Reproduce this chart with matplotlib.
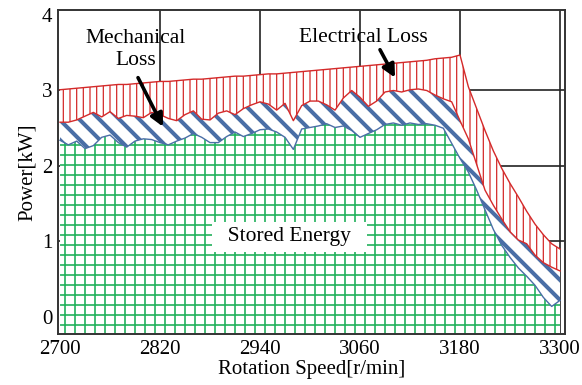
import numpy as np
import matplotlib
matplotlib.use("Agg")
from matplotlib import pyplot as plt

# figure is drawn at dpi 120 so the hatch spacing comes out coarser;
# point sizes are scaled back so the pixel sizes stay the same
DPI = 120
S = 100 / DPI

plt.rcParams['font.family'] = ['Liberation Serif', 'DejaVu Serif']
plt.rcParams['font.size'] = 15 * S

# rotation speed samples [r/min]
rpm = np.arange(2700, 3301, 10)

# top of stored energy band [kW]
stored = [2.34, 2.28, 2.33, 2.23, 2.27, 2.38, 2.41, 2.31, 2.25, 2.33,
          2.36, 2.35, 2.31, 2.28, 2.33, 2.37, 2.43, 2.38, 2.31, 2.31,
          2.39, 2.45, 2.39, 2.43, 2.48, 2.49, 2.45, 2.38, 2.22, 2.49,
          2.51, 2.53, 2.56, 2.51, 2.53, 2.47, 2.38, 2.43, 2.48, 2.55,
          2.57, 2.54, 2.57, 2.55, 2.56, 2.54, 2.50, 2.30, 2.10, 1.92,
          1.68, 1.42, 1.16, 0.95, 0.79, 0.65, 0.54, 0.42, 0.26, 0.14,
          0.22]

# stored + mechanical loss [kW]
mech_top = [2.58, 2.58, 2.61, 2.66, 2.71, 2.65, 2.72, 2.63, 2.67, 2.66,
            2.64, 2.71, 2.68, 2.63, 2.60, 2.68, 2.73, 2.62, 2.61, 2.70,
            2.73, 2.68, 2.76, 2.81, 2.85, 2.82, 2.74, 2.83, 2.60, 2.80,
            2.86, 2.86, 2.81, 2.74, 2.90, 3.00, 2.91, 2.79, 2.86, 2.98,
            3.00, 2.98, 3.01, 3.02, 3.00, 2.94, 2.89, 2.85, 2.60, 2.36,
            2.02, 1.68, 1.48, 1.30, 1.13, 1.02, 0.97, 0.82, 0.72, 0.66,
            0.61]

# total input power, stored + mechanical + electrical loss [kW]
total = [3.01, 3.02, 3.03, 3.04, 3.05, 3.06, 3.07, 3.08, 3.08, 3.09,
         3.10, 3.11, 3.12, 3.12, 3.13, 3.14, 3.15, 3.15, 3.16, 3.17,
         3.18, 3.19, 3.19, 3.20, 3.21, 3.22, 3.22, 3.23, 3.24, 3.25,
         3.26, 3.27, 3.28, 3.29, 3.30, 3.31, 3.32, 3.33, 3.34, 3.35,
         3.36, 3.37, 3.38, 3.39, 3.40, 3.42, 3.43, 3.44, 3.47, 3.05,
         2.76, 2.47, 2.20, 1.97, 1.77, 1.59, 1.40, 1.23, 1.09, 0.97,
         0.90]

xticks = [2700, 2820, 2940, 3060, 3180, 3300]
yticks = [0, 1, 2, 3, 4]

red = '#d42a2a'
blue = '#4a6ea6'
green = '#22b25c'


def hatched(ax, lo, hi, color, hatch, lw):
    with plt.rc_context({'hatch.linewidth': lw}):
        poly = ax.fill_between(rpm, lo, hi, facecolor='white', edgecolor=color,
                               hatch=hatch, linewidth=0, zorder=2)
    if hasattr(poly, 'set_hatch_linewidth'):
        poly.set_hatch_linewidth(lw)
    return poly


fig = plt.figure(figsize=(582 / DPI, 385 / DPI), dpi=DPI)
ax = fig.add_axes([0.0997, 0.1325, 0.8711, 0.8415])

ymin, ymax = -0.225, 4.066
hatched(ax, ymin - 0.1, stored, green, '++', 1.2 * S)
hatched(ax, stored, mech_top, blue, '\\\\', 2.9 * S)
hatched(ax, mech_top, total, red, '|||', 0.9 * S)

ax.plot(rpm, stored, color=blue, lw=1.0 * S, zorder=3)
ax.plot(rpm, mech_top, color=red, lw=1.0 * S, zorder=3)
ax.plot(rpm, total, color=red, lw=1.0 * S, zorder=3)

for xv in xticks[1:]:
    ax.axvline(xv, color='#222222', lw=1.2 * S, zorder=1)
for yv in yticks[1:4]:
    ax.axhline(yv, color='#222222', lw=1.2 * S, zorder=1)

ax.set_xlim(2697.6, 3306)
ax.set_ylim(ymin, ymax)
ax.set_xticks(xticks)
ax.set_yticks(yticks)
ax.tick_params(length=0, pad=4 * S)
for s in ax.spines.values():
    s.set_color('#333333')
    s.set_linewidth(1.4 * S)
    s.set_zorder(5)

ax.set_xlabel('Rotation Speed[r/min]', labelpad=1)
ax.set_ylabel('Power[kW]', labelpad=4 * S)

fs = 15.5 * S
arrow = dict(arrowstyle='-|>', lw=2.6 * S, color='black',
             mutation_scale=19 * S, shrinkA=0, shrinkB=0)
ax.text(2791, 3.54, 'Mechanical\nLoss', ha='center', va='center',
        fontsize=fs, zorder=6)
ax.annotate('', xy=(2823.6, 2.52), xytext=(2793.6, 3.17),
            arrowprops=arrow, zorder=6)
ax.text(3063.6, 3.70, 'Electrical Loss', ha='center', va='center',
        fontsize=fs, zorder=6)
ax.annotate('', xy=(3102, 3.17), xytext=(3084, 3.54),
            arrowprops=arrow, zorder=6)
ax.text(2975.4, 1.06, '  Stored Energy  ', ha='center', va='center',
        fontsize=fs, zorder=6,
        bbox=dict(boxstyle='square,pad=0.25', facecolor='white', edgecolor='none'))

fig.savefig('out.png', dpi=DPI)
